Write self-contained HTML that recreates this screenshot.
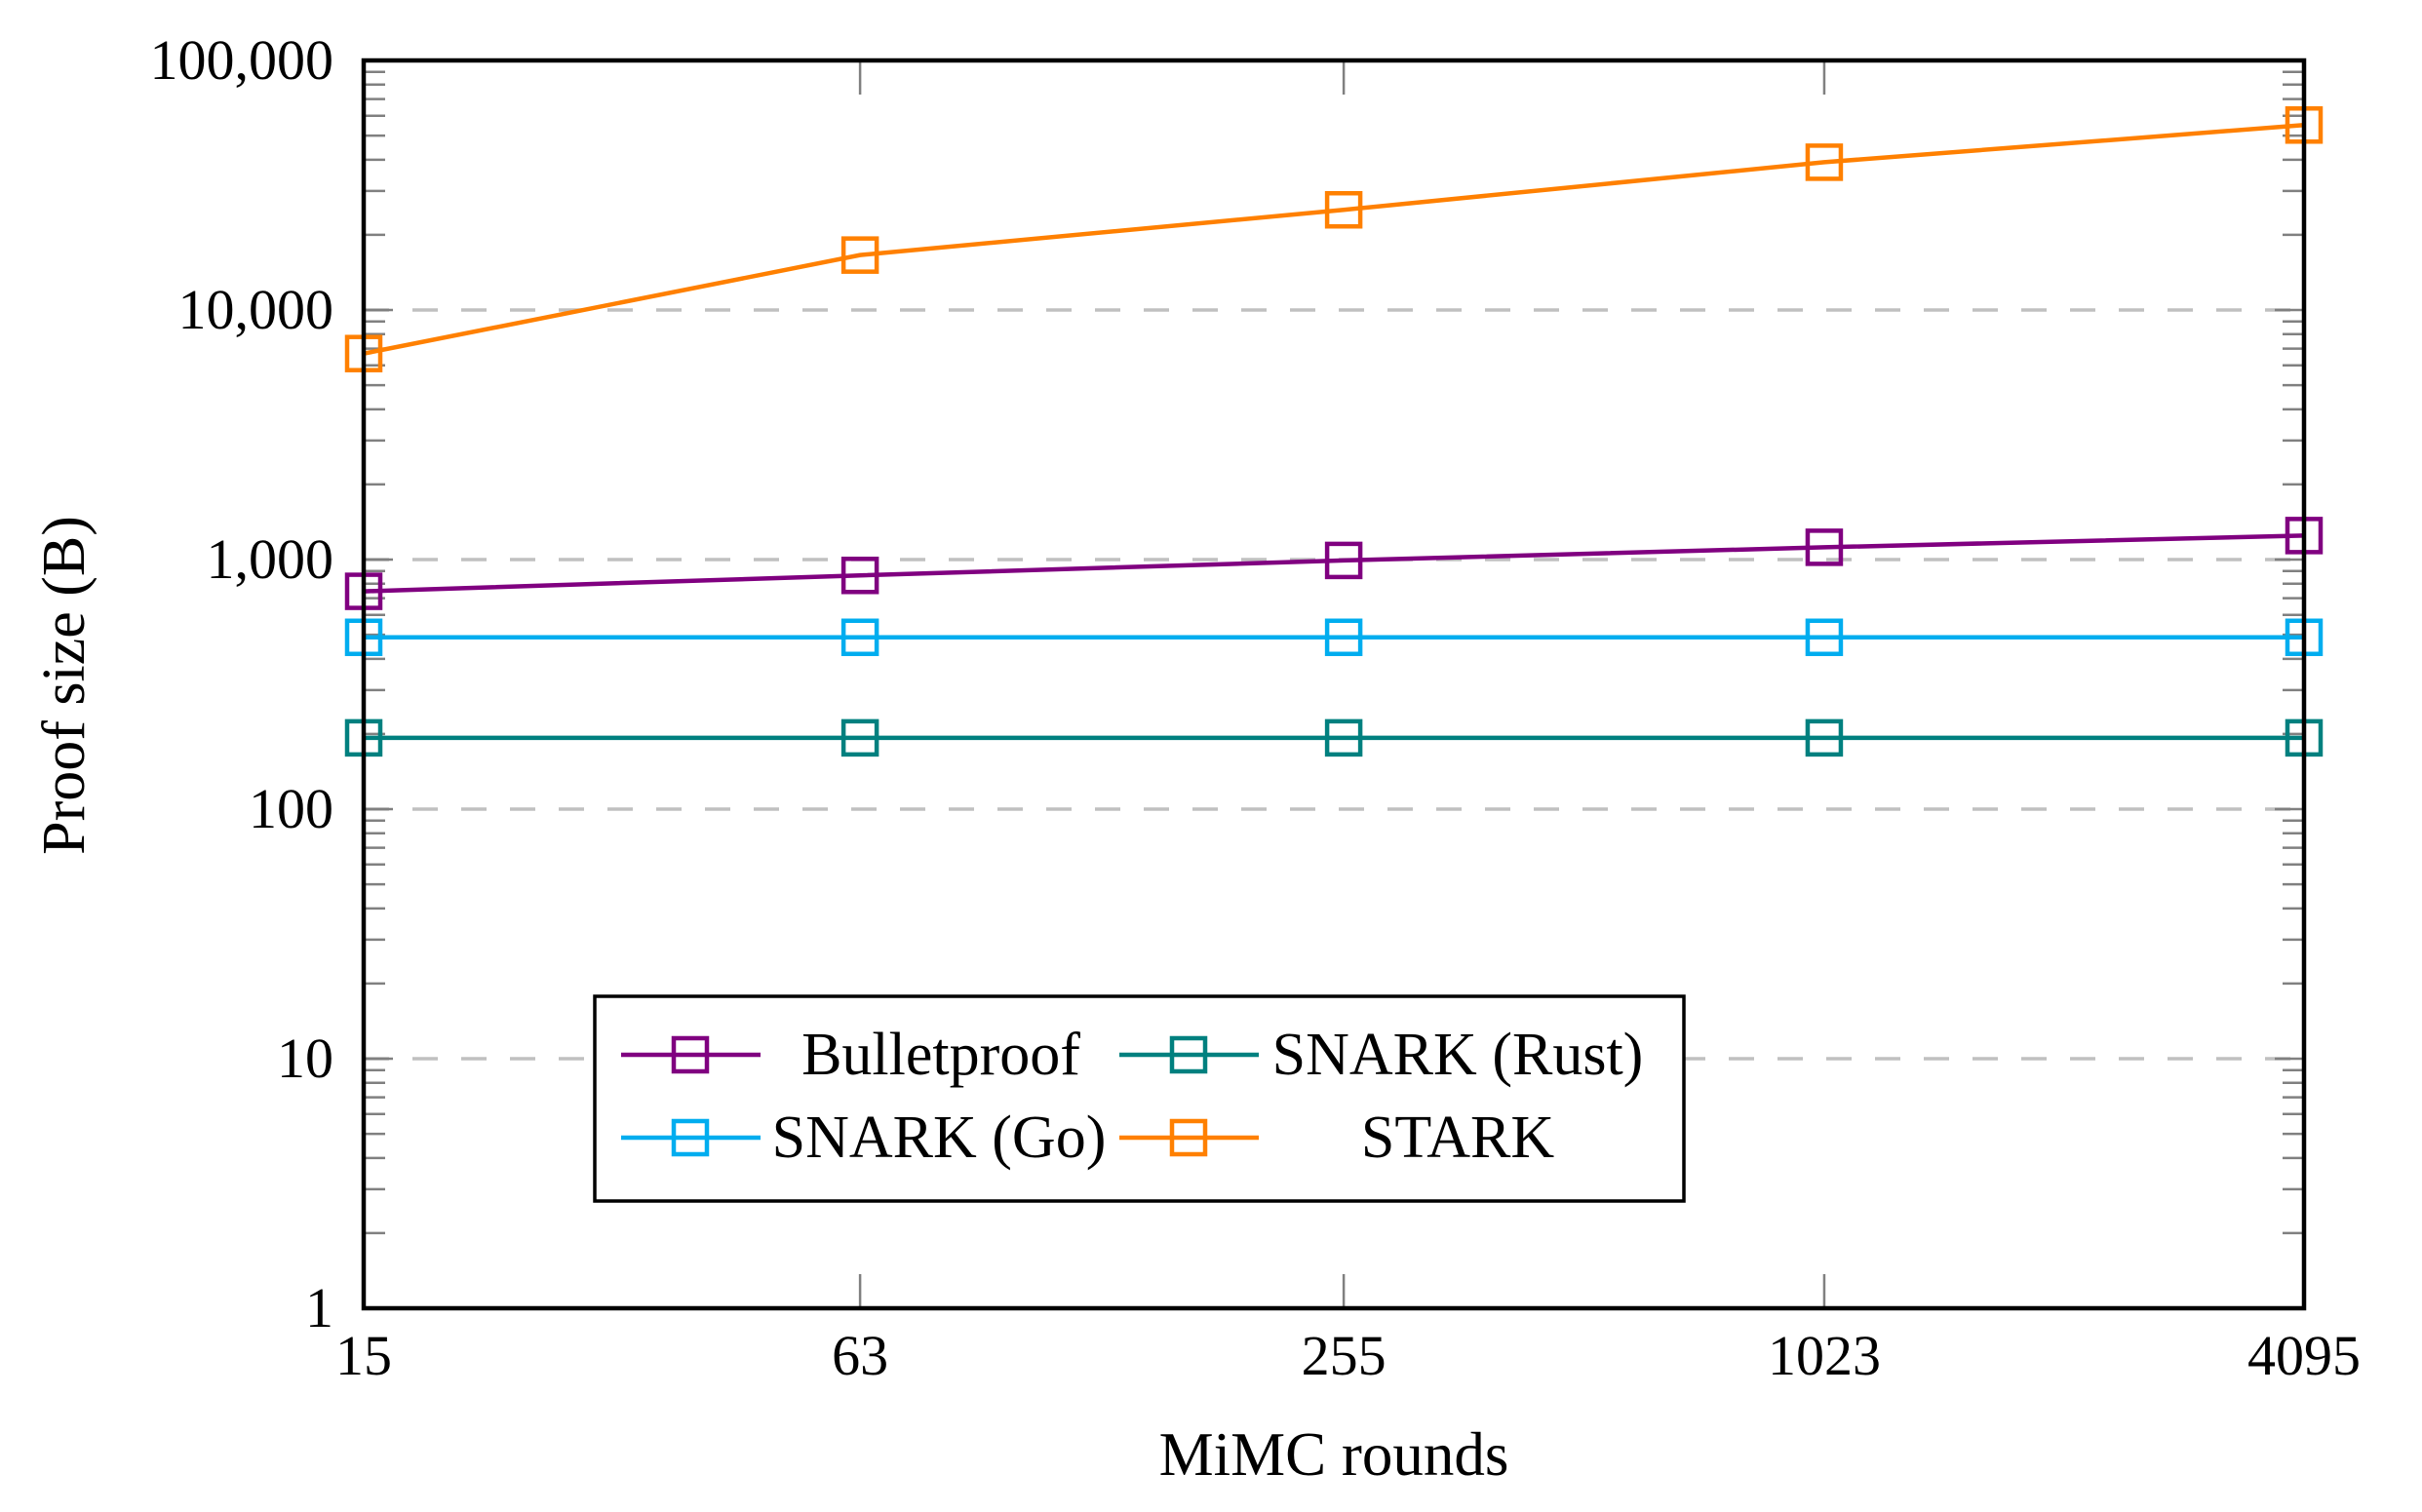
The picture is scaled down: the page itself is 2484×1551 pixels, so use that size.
<!DOCTYPE html>
<html><head><meta charset="utf-8"><style>
html,body{margin:0;padding:0;background:#fff;}
svg{display:block;font-family:"Liberation Serif",serif;}
</style></head><body>
<svg id="chart" width="2484" height="1551" viewBox="0 0 2484 1551" xmlns="http://www.w3.org/2000/svg"></svg>
<script>
const categories = [15, 63, 255, 1023, 4095];
const bulletproof = [746, 864, 992, 1120, 1248];
const snarkGo = [488, 488, 488, 488, 488];
const snarkRust = [193, 193, 193, 193, 193];
const stark = [6690, 16600, 25200, 39100, 55100];
const yTickValues = [1, 10, 100, 1000, 10000, 100000];
const yTickLabels = ["1","10","100","1,000","10,000","100,000"];
const seriesNames = ["Bulletproof","SNARK (Rust)","SNARK (Go)","STARK"];

const NS = "http://www.w3.org/2000/svg";
const svg = document.getElementById("chart");
const L = 373, R = 2363, T = 62, B = 1342;
const xMin = Math.log(categories[0]), xMax = Math.log(categories[categories.length - 1]);
function xScale(i){ return L + (R - L) * (Math.log(categories[i]) - xMin) / (xMax - xMin); }
function yScale(v){ return B - (B - T) * Math.log10(v) / 5; }
function mk(tag, attrs, parent){
  const e = document.createElementNS(NS, tag);
  for (const k in attrs) e.setAttribute(k, attrs[k]);
  (parent || svg).appendChild(e);
  return e;
}

const grid = mk("g", {});


yTickValues.forEach(v => {
  if (v === 1 || v === 100000) return;
  const y = yScale(v);
  const ln = mk("line", {x1: L, x2: R, y1: y, y2: y, stroke: "#c0c0c0", "stroke-width": 3.5, "stroke-dasharray": "26 24"}, grid);
  
  
});

const ticks = mk("g", {stroke: "#808080", "stroke-width": 2.5});


for (let d = 0; d < 5; d++) {
  for (let m = 2; m <= 9; m++) {
    const y = yScale(Math.pow(10, d) * m);
    mk("line", {x1: L, x2: L + 22, y1: y, y2: y}, ticks);
    mk("line", {x1: R - 22, x2: R, y1: y, y2: y}, ticks);
  }
}
yTickValues.forEach(v => {
  const y = yScale(v);
  mk("line", {x1: L, x2: L + 30, y1: y, y2: y}, ticks);
  mk("line", {x1: R - 30, x2: R, y1: y, y2: y}, ticks);
});
categories.forEach((c, i) => {
  const x = xScale(i);
  mk("line", {x1: x, x2: x, y1: T, y2: T + 35}, ticks);
  mk("line", {x1: x, x2: x, y1: B - 35, y2: B}, ticks);
});

const colors = {bp: "#800080", go: "#00adef", rust: "#00807f", stark: "#ff8000"};
function drawSeries(vals, color, name){
  const g = mk("g", {});
  
  
  const pts = vals.map((v, i) => xScale(i) + "," + yScale(v)).join(" ");
  mk("polyline", {points: pts, fill: "none", stroke: color, "stroke-width": 4.5}, g);
  vals.forEach((v, i) => {
    const r = mk("rect", {x: xScale(i) - 17, y: yScale(v) - 17, width: 34, height: 34, fill: "none", stroke: color, "stroke-width": 4.5}, g);
    
    
  });
}
drawSeries(snarkRust, colors.rust, "series-snark-rust");
drawSeries(snarkGo, colors.go, "series-snark-go");
drawSeries(bulletproof, colors.bp, "series-bulletproof");
drawSeries(stark, colors.stark, "series-stark");

const frame = mk("rect", {x: L, y: T, width: R - L, height: B - T, fill: "none", stroke: "#000", "stroke-width": 4.5});



yTickValues.forEach((v, i) => {
  const t = mk("text", {x: 342, y: yScale(v) + 19, "text-anchor": "end", "font-size": 58, fill: "#000"});
  t.textContent = yTickLabels[i];
  
  
});
categories.forEach((c, i) => {
  const t = mk("text", {x: xScale(i), y: 1410, "text-anchor": "middle", "font-size": 58, fill: "#000"});
  t.textContent = String(c);
  
  
});

const xt = mk("text", {x: (L + R) / 2, y: 1513, "text-anchor": "middle", "font-size": 63});
xt.textContent = "MiMC rounds";


const yt = mk("text", {x: 0, y: 0, "text-anchor": "middle", "font-size": 62, transform: "translate(86,703) rotate(-90)"});
yt.textContent = "Proof size (B)";



const lg = mk("g", {});


mk("rect", {x: 610, y: 1022, width: 1117, height: 210, fill: "#fff", stroke: "#000", "stroke-width": 3.5}, lg);
const entries = [
  {c: colors.bp, x: 637, y: 1082, tx: 965},
  {c: colors.rust, x: 1148, y: 1082, tx: 1495},
  {c: colors.go, x: 637, y: 1167, tx: 963},
  {c: colors.stark, x: 1148, y: 1167, tx: 1495}
];
entries.forEach((e, i) => {
  const g = mk("g", {}, lg);
  
  
  mk("line", {x1: e.x, x2: e.x + 143, y1: e.y, y2: e.y, stroke: e.c, "stroke-width": 4.5}, g);
  mk("rect", {x: e.x + 71 - 17, y: e.y - 17, width: 34, height: 34, fill: "none", stroke: e.c, "stroke-width": 4.5}, g);
  const t = mk("text", {x: e.tx, y: e.y + 20, "text-anchor": "middle", "font-size": 62}, g);
  t.textContent = seriesNames[i];
});
</script>
</body></html>
